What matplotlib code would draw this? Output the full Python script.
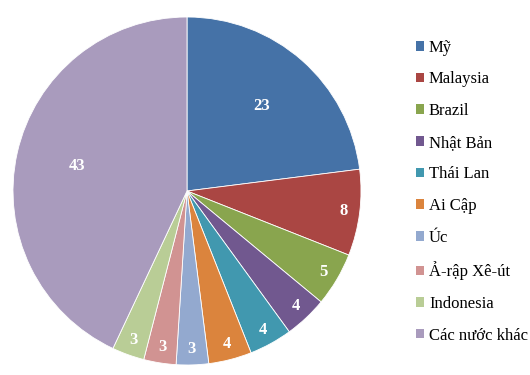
import matplotlib
matplotlib.use("Agg")
import matplotlib.pyplot as plt
import numpy as np

labels = ["Mỹ", "Malaysia", "Brazil", "Nhật Bản", "Thái Lan", "Ai Cập", "Úc",
          "Ả-rập Xê-út", "Indonesia", "Các nước khác"]
values = [23, 8, 5, 4, 4, 4, 3, 3, 3, 43]
colors = ["#4572A7", "#AA4643", "#89A54E", "#71588F", "#4198AF", "#DB843D",
          "#93A9CF", "#D19392", "#B9CD96", "#A99BBD"]

plt.rcParams['font.family'] = ['Liberation Serif', 'DejaVu Serif']

fig = plt.figure(figsize=(5.30, 3.75), dpi=100)
cx, cy, r = 187, 191, 174
ax = fig.add_axes([(cx - r) / 530, (375 - cy - r) / 375, 2 * r / 530, 2 * r / 375])
wedges, _ = ax.pie(values, colors=colors, startangle=90, counterclock=False,
                   radius=1.0, wedgeprops=dict(edgecolor='white', linewidth=0.6))
ax.set_xlim(-1, 1)
ax.set_ylim(-1, 1)
ax.set_aspect('equal')
ax.axis('off')

for w, v in zip(wedges, values):
    ang = np.deg2rad((w.theta1 + w.theta2) / 2)
    d = 0.65 if v > 10 else 0.91
    ax.text(d * np.cos(ang), d * np.sin(ang), str(v), ha='center', va='center',
            color='white', fontsize=12, fontweight='bold')

leg = fig.legend(wedges, labels, loc='upper left', bbox_to_anchor=(409 / 530, 1 - 33 / 375),
                 frameon=False, fontsize=12, handlelength=0.5, handleheight=0.5,
                 handletextpad=0.3, labelspacing=0.94, borderaxespad=0)
for h in leg.legend_handles:
    h.set_edgecolor('none')

fig.savefig("out.png", dpi=100)
